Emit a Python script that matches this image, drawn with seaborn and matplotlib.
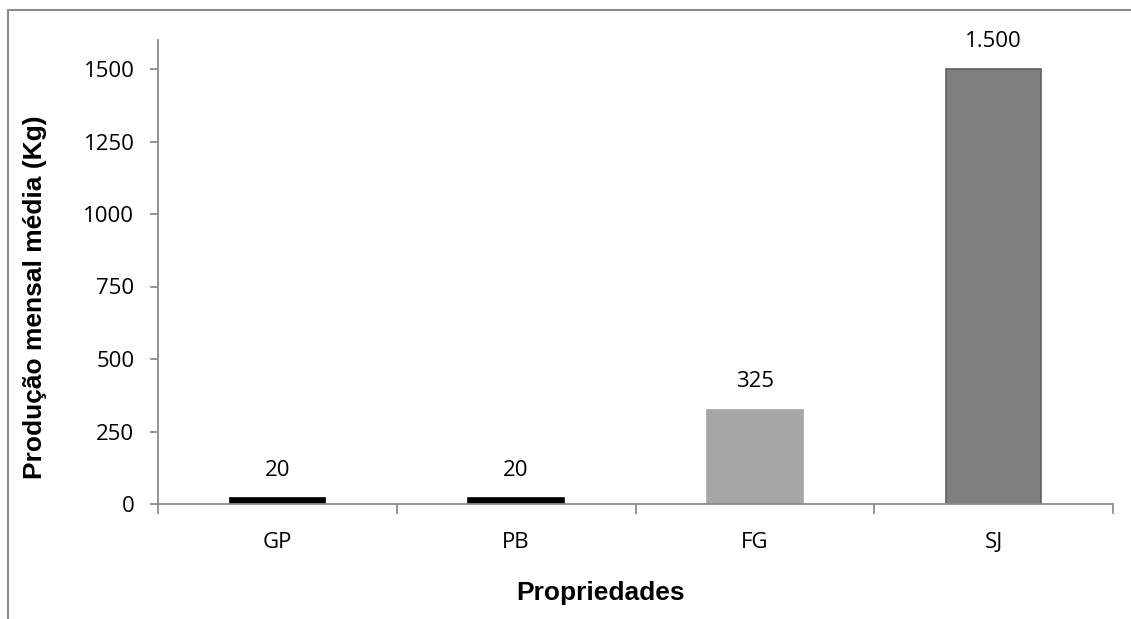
import matplotlib
matplotlib.use("Agg")
import matplotlib.pyplot as plt
import seaborn as sns
import pandas as pd
from matplotlib.patches import Rectangle

categories = ["GP", "PB", "FG", "SJ"]
values = [20, 20, 325, 1500]
value_labels = ["20", "20", "325", "1.500"]
colors = ["#000000", "#000000", "#a6a6a6", "#7f7f7f"]
edge_colors = ["#000000", "#000000", "#a6a6a6", "#606060"]
yticks = [0, 250, 500, 750, 1000, 1250, 1500]

sns.set_theme(style="white")
plt.rcParams['font.family'] = ['Open Sans', 'DejaVu Sans']

df = pd.DataFrame({"cat": categories, "val": values})

fig = plt.figure(figsize=(11.31, 6.19), dpi=100)
ax = fig.add_axes([158/1131, 1-504/619, (1113-158)/1131, (504-40)/619])

sns.barplot(data=df, x="cat", y="val", hue="cat", palette=colors, legend=False,
            width=0.40, ax=ax, saturation=1)
for p, ec in zip(ax.patches, edge_colors):
    p.set_edgecolor(ec)
    p.set_linewidth(1.2)

ax.set_xlim(-0.5, len(categories) - 0.5)
ax.set_ylim(0, 1600)
ax.set_yticks(yticks)
ax.set_yticklabels([str(t) for t in yticks])
ax.set_xticks(range(len(categories)))
ax.set_xticklabels(categories)
ax.set_xticks([i - 0.5 for i in range(len(categories) + 1)], minor=True)

ax.tick_params(axis="x", which="major", bottom=False, length=0, labelsize=16,
               labelcolor="#000000", pad=20)
ax.tick_params(axis="x", which="minor", bottom=True, length=7, width=1.3,
               color="#8c8c8c", direction="out")
ax.tick_params(axis="y", which="major", left=True, length=6, width=1.3,
               color="#8c8c8c", direction="out", labelsize=16,
               labelcolor="#000000", pad=11)

for s in ["top", "right"]:
    ax.spines[s].set_visible(False)
for s in ["left", "bottom"]:
    ax.spines[s].set_color("#8c8c8c")
    ax.spines[s].set_linewidth(1.3)

ax.set_xlabel("Propriedades", fontsize=19, fontweight="bold",
              family="Liberation Sans", color="#000000")
ax.set_ylabel("Produção mensal média (Kg)", fontsize=19, fontweight="bold",
              family="Liberation Sans", color="#000000")
ax.xaxis.set_label_coords(0.463, -0.165)
ax.yaxis.set_label_coords(-0.116, 0.446)

for i, (v, lab) in enumerate(zip(values, value_labels)):
    ax.annotate(lab, (i, v), xytext=(0, 20), textcoords="offset points",
                ha="center", va="center", fontsize=16, color="#000000")

# outer chart border (partially cropped)
fig.patches.append(Rectangle((8/1131, -0.5), 2.0, 1 - 10/619 + 0.5,
                             transform=fig.transFigure, fill=False,
                             edgecolor="#8c8c8c", linewidth=1.5))

fig.savefig("out.png", dpi=100)
